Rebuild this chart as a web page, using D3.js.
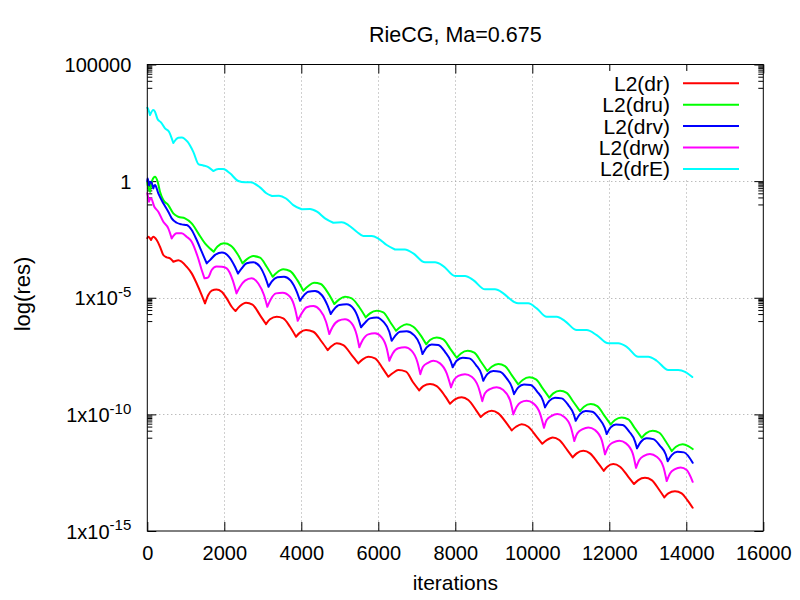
<!DOCTYPE html>
<html><head><meta charset="utf-8">
<script src="https://cdn.jsdelivr.net/npm/d3@7"></script>
<style>
body{margin:0;background:#fff}
text{font-family:'Liberation Sans',Arial,Helvetica,sans-serif;fill:#000}
</style>
</head><body>
<svg id="c" width="800" height="600"></svg>
<script>
// ---------- data ----------
const title = "RieCG, Ma=0.675";
const xLabel = "iterations";
const yLabel = "log(res)";
const xTicks = [0,2000,4000,6000,8000,10000,12000,14000,16000];
const yTicks = [1e5,1,1e-5,1e-10,1e-15];
const yTickBase = ["100000","1","1x10","1x10","1x10"];
const yTickExp  = ["","","-5","-10","-15"];
const seriesNames = ["L2(dr)","L2(dru)","L2(drv)","L2(drw)","L2(drE)"];

const dr = [[0,3.6e-3],[26,4.1e-3],[96,3.0e-3],[156,4.1e-3],[244,3.0e-3],[330,1.54e-3],[416,6.8e-4],[504,5.4e-4],[590,4.9e-4],[675,3.5e-4],[805,4.1e-4],[894,3.5e-4],[1023,2.13e-4],[1153,1.11e-4],[1283,4.1e-5],[1413,1.31e-5],[1499,5.75e-6],[1584,1.31e-5],[1673,2.0e-5],[1797,2.25e-5],[1932,1.81e-5],[2062,9.4e-6],[2192,4.1e-6],[2291,2.69e-6],[2408,4.4e-6],[2564,6.1e-6],[2732,5.1e-6],[2927,1.81e-6],[3083,7.4e-7],[3187,1.19e-6],[3361,1.53e-6],[3532,1.31e-6],[3706,5.7e-7],[3862,2.13e-7],[3966,3.2e-7],[4122,4.1e-7],[4312,3.5e-7],[4530,1.30e-7],[4686,5.7e-8],[4790,8.5e-8],[4919,1.11e-7],[5091,9.4e-8],[5309,3.5e-8],[5480,1.54e-8],[5595,2.28e-8],[5740,2.95e-8],[5914,2.52e-8],[6114,9.4e-9],[6260,4.1e-9],[6390,6.1e-9],[6519,7.9e-9],[6719,6.8e-9],[6893,2.5e-9],[7062,1.07e-9],[7169,1.63e-9],[7343,1.99e-9],[7517,1.63e-9],[7733,6.1e-10],[7862,2.85e-10],[7992,4.4e-10],[8166,5.4e-10],[8338,4.1e-10],[8538,1.53e-10],[8660,7.7e-11],[8771,1.10e-10],[8945,1.43e-10],[9117,1.10e-10],[9335,4.1e-11],[9465,2.06e-11],[9577,2.94e-11],[9725,3.8e-11],[9896,2.94e-11],[10114,1.09e-11],[10260,5.5e-12],[10374,7.9e-12],[10530,1.03e-11],[10701,7.9e-12],[10909,2.94e-12],[11049,1.43e-12],[11153,2.13e-12],[11325,2.75e-12],[11499,2.13e-12],[11714,7.9e-13],[11855,3.8e-13],[11948,5.7e-13],[12104,7.4e-13],[12278,5.7e-13],[12494,2.11e-13],[12642,1.03e-13],[12753,1.52e-13],[12927,1.91e-13],[13101,1.52e-13],[13299,5.7e-14],[13429,2.76e-14],[13532,4.1e-14],[13706,5.1e-14],[13880,4.1e-14],[14026,2.11e-14],[14166,9.9e-15]];

const dru = [[0,0.9],[10,0.68],[70,0.35],[130,1.11],[200,1.55],[270,0.94],[330,0.35],[416,0.155],[545,0.094],[675,0.0416],[805,0.0297],[979,0.0254],[1153,0.0155],[1325,0.00578],[1499,0.00215],[1629,0.00129],[1725,9.4e-4],[1823,1.57e-3],[1992,2.15e-3],[2166,1.73e-3],[2343,7.5e-4],[2473,2.99e-4],[2582,4.4e-4],[2753,6.1e-4],[2927,5.2e-4],[3101,2.13e-4],[3257,7.96e-5],[3361,1.18e-4],[3532,1.65e-4],[3706,1.40e-4],[3896,5.7e-5],[4052,2.0e-5],[4182,3.18e-5],[4330,4.4e-5],[4504,3.87e-5],[4701,1.54e-5],[4857,5.4e-6],[4987,8.5e-6],[5135,1.10e-5],[5309,9.4e-6],[5507,3.9e-6],[5673,1.44e-6],[5784,2.14e-6],[5958,2.77e-6],[6130,2.37e-6],[6304,9.4e-7],[6460,3.85e-7],[6582,5.7e-7],[6738,7.3e-7],[6909,5.7e-7],[7096,2.51e-7],[7244,1.01e-7],[7343,1.53e-7],[7517,2.0e-7],[7688,1.64e-7],[7862,6.8e-8],[8036,2.67e-8],[8148,4.1e-8],[8322,5.3e-8],[8494,4.4e-8],[8667,1.80e-8],[8831,7.2e-9],[8945,1.10e-8],[9117,1.44e-8],[9291,1.18e-8],[9465,4.8e-9],[9636,1.93e-9],[9751,2.96e-9],[9922,3.86e-9],[10096,3.17e-9],[10270,1.30e-9],[10441,5.2e-10],[10545,7.96e-10],[10720,1.03e-9],[10894,8.4e-10],[11065,3.47e-10],[11239,1.38e-10],[11343,2.12e-10],[11517,2.77e-10],[11688,2.27e-10],[11862,9.3e-11],[12036,3.7e-11],[12148,5.7e-11],[12322,7.4e-11],[12494,6.1e-11],[12667,2.51e-11],[12842,9.9e-12],[12953,1.53e-11],[13127,1.98e-11],[13299,1.63e-11],[13473,6.7e-12],[13621,2.67e-12],[13732,4.1e-12],[13906,5.3e-12],[14052,4.4e-12],[14166,3.25e-12]];

const drv = [[0,1.0],[10,1.32],[44,0.68],[96,0.94],[156,0.49],[200,0.68],[286,0.30],[416,0.112],[545,0.0488],[634,0.0254],[764,0.0164],[894,0.0140],[1023,0.0131],[1153,0.0080],[1283,0.00298],[1413,9.4e-4],[1543,2.99e-4],[1629,4.1e-4],[1771,7.1e-4],[1940,8.7e-4],[2122,5.7e-4],[2278,2.13e-4],[2356,1.09e-4],[2452,1.82e-4],[2582,2.99e-4],[2753,3.3e-4],[2927,2.13e-4],[3057,7.96e-5],[3148,2.96e-5],[3231,4.9e-5],[3377,7.5e-5],[3551,7.96e-5],[3725,5.4e-5],[3881,1.81e-5],[3966,7.4e-6],[4052,1.18e-5],[4182,1.81e-5],[4356,1.94e-5],[4530,1.31e-5],[4675,4.9e-6],[4764,2.0e-6],[4849,3.18e-6],[4987,4.9e-6],[5179,5.2e-6],[5351,3.5e-6],[5480,1.31e-6],[5551,5.4e-7],[5655,8.5e-7],[5784,1.31e-6],[5958,1.44e-6],[6130,9.4e-7],[6286,3.5e-7],[6348,1.43e-7],[6434,2.28e-7],[6564,3.5e-7],[6738,3.7e-7],[6927,2.51e-7],[7083,9.4e-8],[7148,3.85e-8],[7257,7.5e-8],[7387,1.0e-7],[7558,9.4e-8],[7732,4.8e-8],[7880,1.9e-8],[7932,1.04e-8],[8036,1.99e-8],[8192,2.67e-8],[8364,2.52e-8],[8537,1.30e-8],[8680,5.2e-9],[8727,2.76e-9],[8831,5.3e-9],[8987,7.2e-9],[9161,6.7e-9],[9335,3.5e-9],[9475,1.4e-9],[9525,7.4e-10],[9636,1.44e-9],[9784,1.93e-9],[9958,1.80e-9],[10130,9.3e-10],[10280,3.8e-10],[10330,2.0e-10],[10441,3.8e-10],[10589,5.2e-10],[10763,4.85e-10],[10935,2.5e-10],[11077,1.0e-10],[11127,5.3e-11],[11239,1.03e-10],[11387,1.38e-10],[11558,1.29e-10],[11732,6.7e-11],[11880,2.7e-11],[11932,1.43e-11],[12036,2.77e-11],[12174,3.7e-11],[12348,3.5e-11],[12519,1.80e-11],[12670,6.8e-12],[12719,3.5e-12],[12823,6.7e-12],[12971,9.4e-12],[13143,8.7e-12],[13317,4.5e-12],[13467,1.9e-12],[13517,9.9e-13],[13621,1.80e-12],[13766,2.49e-12],[13940,2.35e-12],[14166,8.4e-13]];

const drw = [[0,0.3],[10,0.254],[44,0.131],[96,0.183],[182,0.080],[286,0.0488],[416,0.0182],[545,0.0095],[634,0.00352],[764,0.00578],[894,0.00578],[1023,0.00413],[1153,0.00252],[1309,5.7e-4],[1413,1.54e-4],[1486,6.8e-5],[1584,7.5e-5],[1673,1.54e-4],[1797,2.18e-4],[1940,2.13e-4],[2062,1.82e-4],[2218,5.7e-5],[2317,1.54e-5],[2408,2.96e-5],[2538,5.4e-5],[2712,6.8e-5],[2883,4.1e-5],[3031,1.31e-5],[3117,4.1e-6],[3205,8.5e-6],[3343,1.54e-5],[3517,1.64e-5],[3706,1.10e-5],[3836,3.5e-6],[3907,1.03e-6],[4010,2.14e-6],[4140,3.9e-6],[4312,4.4e-6],[4486,2.97e-6],[4642,9.4e-7],[4727,2.77e-7],[4816,5.7e-7],[4961,1.03e-6],[5135,1.19e-6],[5309,7.98e-7],[5439,2.51e-7],[5507,7.5e-8],[5595,1.53e-7],[5740,2.7e-7],[5914,2.97e-7],[6088,2.0e-7],[6218,6.8e-8],[6286,1.99e-8],[6374,4.1e-8],[6519,6.8e-8],[6693,7.5e-8],[6868,5.3e-8],[7013,1.80e-8],[7091,5.3e-9],[7161,1.10e-8],[7291,1.63e-8],[7429,1.99e-8],[7603,1.54e-8],[7777,5.7e-9],[7888,1.44e-9],[7966,2.96e-9],[8078,4.5e-9],[8252,5.3e-9],[8426,4.1e-9],[8597,1.53e-9],[8701,3.7e-10],[8771,7.96e-10],[8901,1.22e-9],[9075,1.44e-9],[9247,1.10e-9],[9421,4.1e-10],[9507,1.0e-10],[9595,2.12e-10],[9699,3.27e-10],[9855,3.8e-10],[10026,2.96e-10],[10200,1.10e-10],[10304,2.66e-11],[10374,5.7e-11],[10504,8.7e-11],[10649,1.03e-10],[10823,7.9e-11],[10997,2.94e-11],[11091,7.2e-12],[11169,1.53e-11],[11309,2.34e-11],[11455,2.77e-11],[11629,2.12e-11],[11803,7.9e-12],[11888,1.93e-12],[11974,4.1e-12],[12104,6.3e-12],[12260,7.4e-12],[12434,5.7e-12],[12608,2.13e-12],[12694,5.1e-13],[12779,1.10e-12],[12901,1.68e-12],[13057,1.99e-12],[13231,1.52e-12],[13403,5.7e-13],[13491,1.38e-13],[13577,2.95e-13],[13706,4.5e-13],[13854,5.3e-13],[14010,4.1e-13],[14166,1.29e-13]];

const drE = [[0,1.4e3],[26,1.2e3],[70,6.8e2],[156,1.12e3],[200,9.5e2],[265,4.6e2],[356,3.3e2],[460,1.84e2],[564,1.31e2],[675,43],[805,73],[894,75],[1044,49],[1195,18],[1335,5.2],[1455,4.7],[1584,4.0],[1714,2.7],[1844,3.3],[1974,3.3],[2148,2.16],[2364,1.01],[2538,0.89],[2680,0.89],[2927,0.54],[3083,0.31],[3239,0.23],[3421,0.237],[3603,0.18],[3792,0.094],[4010,0.062],[4226,0.0636],[4408,0.0488],[4616,0.0254],[4831,0.0164],[5049,0.0171],[5221,0.0131],[5439,0.00676],[5610,0.00442],[5829,0.00442],[6000,0.00346],[6218,0.00182],[6434,0.00117],[6693,0.00118],[6909,8.0e-4],[7213,3.3e-4],[7473,3.3e-4],[7688,2.29e-4],[7992,8.5e-5],[8252,8.5e-5],[8468,5.7e-5],[8771,2.29e-5],[9031,2.29e-5],[9247,1.55e-5],[9507,6.9e-6],[9636,5.75e-6],[9896,5.75e-6],[10114,3.5e-6],[10374,1.53e-6],[10634,1.53e-6],[10849,1.0e-6],[11153,4.1e-7],[11413,4.1e-7],[11673,2.5e-7],[11974,1.11e-7],[12234,1.11e-7],[12460,7.7e-8],[12753,2.95e-8],[13013,2.95e-8],[13231,1.99e-8],[13532,7.9e-9],[13792,7.9e-9],[13966,6.7e-9],[14156,4.0e-9]];

const seriesData = [dr, dru, drv, drw, drE];
const seriesColors = ["#ff0000","#00ff00","#0000ff","#ff00ff","#00ffff"];

// ---------- layout ----------
const L = 147.3, R = 763.3, T = 64.5, B = 531;
const x = d3.scaleLinear().domain([0,16000]).range([L,R]);
const y = d3.scaleLog().domain([1e-15,1e5]).range([B,T]);
const svg = d3.select('#c');
const FONT = "'Liberation Sans',Arial,Helvetica,sans-serif";

// grid
const grid = svg.append('g').attr('stroke','#a0a0a0').attr('stroke-width',1).attr('stroke-dasharray','1,3');
grid.selectAll('line.gx').data(xTicks.filter(v=>v>0&&v<16000)).join('line').attr('class','gx')
  .attr('x1',d=>Math.round(x(d))+0.5).attr('x2',d=>Math.round(x(d))+0.5).attr('y1',T).attr('y2',B);
grid.selectAll('line.gy').data(yTicks.filter(v=>v<1e5&&v>1e-15)).join('line').attr('class','gy')
  .attr('y1',d=>Math.round(y(d))+0.5).attr('y2',d=>Math.round(y(d))+0.5).attr('x1',L).attr('x2',R);

// minor ticks values
const minors = [];
[5,0,-5,-10].forEach(e=>{ for(let k=1;k<=9;k++) minors.push(k*Math.pow(10,e-1)); });

function styleAxis(g){ g.select('.domain').remove(); g.attr('font-family',FONT).attr('font-size',20); g.selectAll('line').attr('stroke','#000'); }

// bottom axis
svg.append('g').attr('transform',`translate(0,${B})`)
  .call(d3.axisBottom(x).tickValues(xTicks).tickSize(-9).tickPadding(15).tickFormat(d3.format('d')))
  .call(styleAxis);
// top axis
svg.append('g').attr('transform',`translate(0,${T})`)
  .call(d3.axisTop(x).tickValues(xTicks).tickSize(-9).tickFormat(''))
  .call(styleAxis);
// left axis
const gl = svg.append('g').attr('transform',`translate(${L},0)`)
  .call(d3.axisLeft(y).tickValues(yTicks).tickSize(-9).tickPadding(16).tickFormat(''))
  .call(styleAxis);
gl.selectAll('.tick text').each(function(d){
  const i = yTicks.indexOf(d);
  const t = d3.select(this).attr('dy','0.36em');
  t.append('tspan').text(yTickBase[i]);
  if (yTickExp[i]) {
    t.append('tspan').attr('dy','-0.55em').attr('font-size',15).text(yTickExp[i]);
  }
});
svg.append('g').attr('transform',`translate(${L},0)`)
  .call(d3.axisLeft(y).tickValues(minors).tickSize(-5).tickFormat(''))
  .call(styleAxis);
// right axis
svg.append('g').attr('transform',`translate(${R},0)`)
  .call(d3.axisRight(y).tickValues(yTicks).tickSize(-9).tickFormat(''))
  .call(styleAxis);
svg.append('g').attr('transform',`translate(${R},0)`)
  .call(d3.axisRight(y).tickValues(minors).tickSize(-5).tickFormat(''))
  .call(styleAxis);

// series
function pathFor(data){
  const line = d3.line().x(d=>x(d[0])).y(d=>y(d[1])).curve(d3.curveMonotoneX);
  const segs = []; let cur = [data[0]];
  for (let i=1;i<data.length;i++){
    cur.push(data[i]);
    if (i<data.length-1 && data[i][1]<data[i-1][1] && data[i][1]<data[i+1][1]) { segs.push(cur); cur=[data[i]]; }
  }
  segs.push(cur);
  return segs.map(s=>line(s)).join('');
}
const plot = svg.append('g');
seriesData.forEach((d,i)=>{
  plot.append('path').attr('d',pathFor(d)).attr('fill','none')
    .attr('stroke',seriesColors[i]).attr('stroke-width',2)
    .attr('stroke-linejoin','round').attr('stroke-linecap','round');
});

// legend
svg.append('rect').attr('x',592).attr('y',71).attr('width',164).attr('height',108).attr('fill','#fff');
const leg = svg.append('g');
seriesNames.forEach((n,i)=>{
  const cy = 83.3 + i*21.4;
  leg.append('text').attr('x',670).attr('y',cy).attr('dy','0.36em').attr('text-anchor','end')
    .attr('font-size',21).text(n);
  leg.append('line').attr('x1',683).attr('x2',739).attr('y1',cy).attr('y2',cy)
    .attr('stroke',seriesColors[i]).attr('stroke-width',2);
});

// border
svg.append('rect').attr('x',L).attr('y',T).attr('width',R-L).attr('height',B-T)
  .attr('fill','none').attr('stroke','#000').attr('stroke-width',1);

// titles
svg.append('text').attr('x',(L+R)/2).attr('y',42).attr('text-anchor','middle').attr('font-size',21.5).text(title);
svg.append('text').attr('x',(L+R)/2).attr('y',590).attr('text-anchor','middle').attr('font-size',21).text(xLabel);
svg.append('text').attr('transform','translate(22,294) rotate(-90)').attr('dy','0.36em')
  .attr('text-anchor','middle').attr('font-size',22).text(yLabel);
</script>
</body></html>
